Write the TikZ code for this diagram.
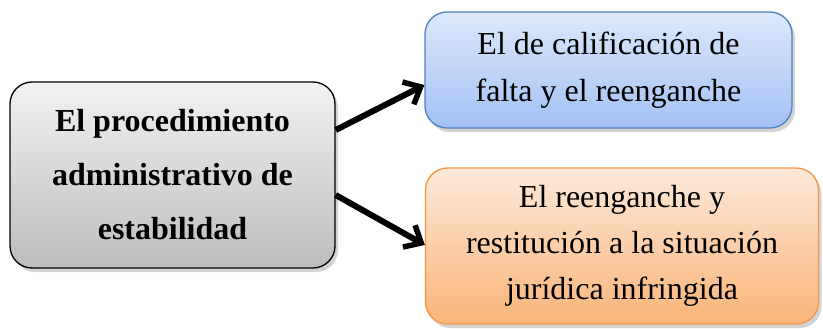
\documentclass[tikz,border=0pt]{standalone}
\usepackage{fontspec}
\setmainfont{Liberation Serif}
\usepackage{tikz}
\usetikzlibrary{arrows.meta}
\usetikzlibrary{shadows}
\usetikzlibrary{positioning}

\definecolor{grisA}{HTML}{F2F2F2}
\definecolor{grisB}{HTML}{BDBDBD}
\definecolor{azulA}{HTML}{DDE8FB}
\definecolor{azulB}{HTML}{A3C1F5}
\definecolor{azulC}{HTML}{4F81BD}
\definecolor{naranjaA}{HTML}{FDE9DA}
\definecolor{naranjaB}{HTML}{FAB479}
\definecolor{naranjaC}{HTML}{F79646}

\tikzset{
  caja/.style={rounded corners=22pt, line width=1.3pt, align=center,
               drop shadow={shadow xshift=3pt, shadow yshift=-4pt, opacity=.35}},
  principal/.style={caja, draw=black, top color=grisA, bottom color=grisB,
                    font=\fontsize{32}{54}\selectfont\bfseries},
  azul/.style={caja, draw=azulC, top color=azulA, bottom color=azulB,
               font=\fontsize{32}{47}\selectfont},
  naranja/.style={caja, draw=naranjaC, top color=naranjaA, bottom color=naranjaB,
                  font=\fontsize{32}{46}\selectfont},
  flecha/.style={line width=6pt, -{Straight Barb[length=14pt, width=25pt, line width=5.5pt]}}
}

\begin{document}
\begin{tikzpicture}[x=1pt, y=1pt]
	\useasboundingbox (0,0) rectangle (823,-329);

	% cajas
	\node[principal, minimum width=325pt, minimum height=186pt] (proc) at (172.5,-175)
		{El procedimiento\\administrativo de\\estabilidad};
	\node[azul, minimum width=367pt, minimum height=116pt] (calif) at (608.5,-70)
		{El de calificación de\\falta y el reenganche};
	\node[naranja, minimum width=393pt, minimum height=156pt] (reeng) at (622,-246)
		{El reenganche y\\restitución a la situación\\jurídica infringida};

	% flechas
	\draw[flecha] ([yshift=45pt]proc.east) -- ([yshift=-15pt]calif.west);
	\draw[flecha] ([yshift=-20pt]proc.east) -- ([yshift=1pt]reeng.west);
\end{tikzpicture}
\end{document}
